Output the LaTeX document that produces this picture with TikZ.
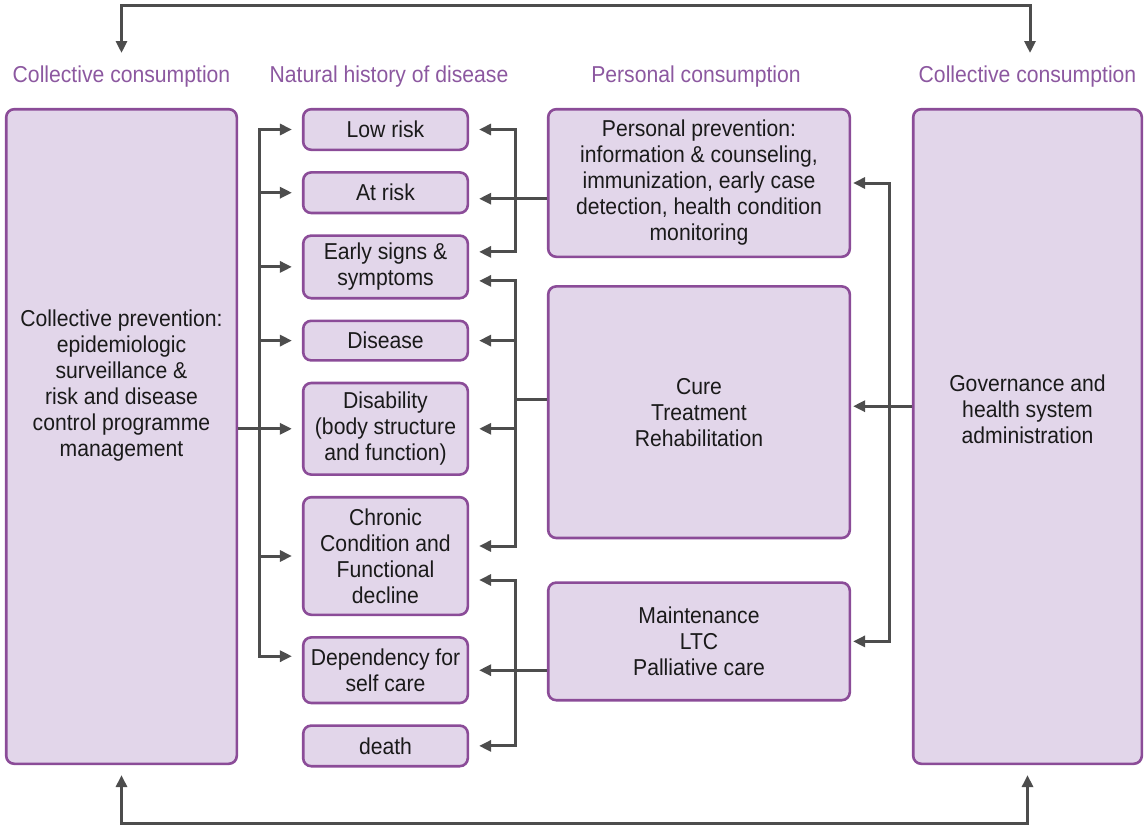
\documentclass[tikz,border=0pt]{standalone}
\usepackage{fontspec}
\setmainfont[FakeStretch=0.92]{Liberation Sans}
\usetikzlibrary{arrows.meta,positioning}
\definecolor{boxfill}{HTML}{E2D6EA}
\definecolor{boxline}{HTML}{8B4C98}
\definecolor{headcol}{HTML}{8C58A0}
\definecolor{arrowcol}{HTML}{4D4D4D}
\definecolor{textcol}{HTML}{1A1A1A}

\begin{document}
\begin{tikzpicture}[
    x=1pt, y=-1pt,
    node distance = 20pt,
    >={Triangle[length=12pt,width=11pt]},
    box/.style={draw=boxline, fill=boxfill, line width=2.6pt, rounded corners=8pt,
      inner sep=0pt, align=center, text=textcol, font=\fontsize{23}{26}\selectfont},
    midbox/.style={box, minimum width=164.6pt},
    rightbox/.style={box, minimum width=301.6pt},
    head/.style={text=headcol, font=\fontsize{23}{26}\selectfont},
    plain/.style={text=textcol, align=center, font=\fontsize{23}{26}\selectfont},
    link/.style={draw=arrowcol, line width=3pt},
    into/.style={link, ->, shorten >=10pt}]
    \useasboundingbox (0,0) rectangle (1145,827);

    % NODES
    % headings
    \node[head] (H1) at (121.5,77) {Collective consumption};
    \node[head] (H2) at (389,77) {Natural history of disease};
    \node[head] (H3) at (696,77) {Personal consumption};
    \node[head] (H4) at (1027.5,77) {Collective consumption};

    % collective boxes
    \node[box, minimum width=230.6pt, minimum height=654.6pt] (CP) at (121.5,436.5) {};
    \node[plain] (CPtext) at ([yshift=51pt]CP.center) {Collective prevention:\\epidemiologic\\surveillance \&\\risk and disease\\control programme\\management};
    \node[box, minimum width=228.6pt, minimum height=654.6pt] (GOV) at (1027.5,436.5) {};
    \node[plain] (GOVtext) at ([yshift=27pt]GOV.center) {Governance and\\health system\\administration};

    % natural history column
    \node[midbox, minimum height=40.6pt] (Low) at (385.5,129.5) {Low risk};
    \node[midbox, minimum height=40.6pt, below = of Low] (AtRisk) {At risk};
    \node[midbox, minimum height=62.6pt, below = of AtRisk] (Early) {Early signs \&\\symptoms};
    \node[midbox, minimum height=39.6pt, below = of Early] (Disease) {Disease};
    \node[midbox, minimum height=91.6pt, below = of Disease] (Disab) {Disability\\(body structure\\and function)};
    \node[midbox, minimum height=117.6pt, below = of Disab] (Chronic) {Chronic\\Condition and\\Functional\\decline};
    \node[midbox, minimum height=65.6pt, below = of Chronic] (Depend) {Dependency for\\self care};
    \node[midbox, minimum height=40.6pt, below = of Depend] (Death) {death};

    % personal consumption column
    \node[rightbox, minimum height=147.6pt] (PP) at (699,183) {Personal prevention:\\information \& counseling,\\immunization, early case\\detection, health condition\\monitoring};
    \node[rightbox, minimum height=251.6pt, below = 27pt of PP] (Cure) {Cure\\Treatment\\Rehabilitation};
    \node[rightbox, minimum height=117.6pt, below = 42pt of Cure] (Maint) {Maintenance\\LTC\\Palliative care};

    % ARROWS
    \coordinate (lbus) at (259,0);
    \coordinate (pbus) at (515,0);
    \coordinate (rbus) at (889,0);
    \coordinate (topmid) at (575,5);
    \coordinate (botmid) at (575,823);
    \coordinate (tl) at (121.5,53);
    \coordinate (tr) at (1030,53);

    % top and bottom loops
    \draw[link,<->] (tl) |- (topmid) -| (tr);
    \draw[link,<->,shorten <=10pt,shorten >=10pt] (CP.south) |- (botmid) -| (GOV.south);

    % collective prevention
    \draw[into] (CP.east |- Disab.west) -- (Disab.west);
    \foreach \n in {Low,AtRisk,Early,Disease,Chronic}
      \draw[into] (lbus |- Disab.west) |- (\n.west);
    \draw[into] (lbus |- Disab.west) |- ([yshift=14pt]Depend.west);

    % personal prevention
    \coordinate (ppj) at ([yshift=-6pt]AtRisk.east);
    \draw[into] (PP.west |- ppj) -- (ppj);
    \draw[into] (pbus |- ppj) |- (Low.east);
    \draw[into] (pbus |- ppj) |- ([yshift=15pt]Early.east);

    % cure
    \coordinate (curej) at ([yshift=13pt]Cure.west);
    \draw[link] (curej) -- (pbus |- curej);
    \draw[into] (pbus |- curej) |- ([yshift=-14pt]Early.east);
    \draw[into] (pbus |- curej) |- (Disease.east);
    \draw[into] (pbus |- curej) |- (Disab.east);
    \draw[into] (pbus |- curej) |- ([yshift=10pt]Chronic.east);

    % maintenance
    \draw[into] (Maint.west |- Depend.east) -- (Depend.east);
    \draw[into] (pbus |- Depend.east) |- ([yshift=-24pt]Chronic.east);
    \draw[into] (pbus |- Depend.east) |- (Death.east);

    % governance
    \coordinate (govj) at ([yshift=6pt]Cure.east);
    \draw[link,->,shorten >=2pt] (GOV.west |- govj) -- (govj);
    \draw[link,->,shorten >=2pt] (rbus |- govj) |- (PP.east);
    \draw[link,->,shorten >=2pt] (rbus |- govj) |- (Maint.east);
\end{tikzpicture}
\end{document}
